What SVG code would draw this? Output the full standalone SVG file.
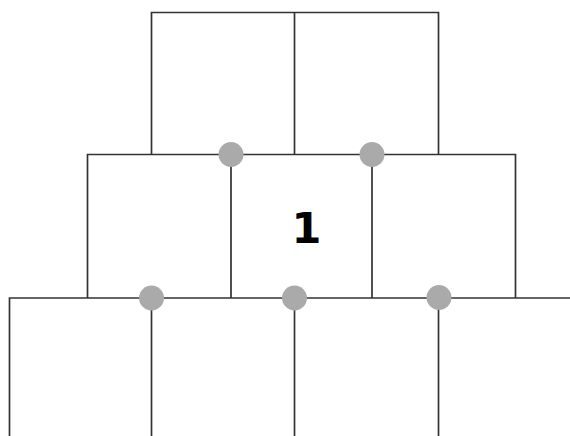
<svg xmlns="http://www.w3.org/2000/svg" width="570" height="436" viewBox="0 0 570 436">
<style>
.ln{stroke:#333333;stroke-width:1.7;fill:none}
.dot{fill:#aaaaaa}
.lbl{font-family:"DejaVu Sans",sans-serif;font-size:43px;font-weight:bold;fill:#000}
</style>
<rect width="570" height="436" fill="#fff"/>
<g id="connectors">
<path class="ln" d="M151.5,154.5 V12.5 H438.5 V154.5 M294.5,12.5 V154.5"/>
<path class="ln" d="M87.5,298 V154.5 H515.5 V298 M231,154.5 V298 M372,154.5 V298"/>
<path class="ln" d="M9.5,436 V298 H570 M151.5,298 V436 M294.5,298 V436 M438.5,298 V436"/>
</g>
<g id="d1"><circle class="dot" cx="231" cy="154.5" r="12.5"/></g>
<g id="d2"><circle class="dot" cx="372" cy="154.5" r="12.5"/></g>
<g id="d3"><circle class="dot" cx="151.5" cy="298" r="12.5"/></g>
<g id="d4"><circle class="dot" cx="294.5" cy="298" r="12.5"/></g>
<g id="d5"><circle class="dot" cx="439" cy="297.5" r="12.5"/></g>
<g id="label"><text class="lbl" x="306.5" y="243" text-anchor="middle">1</text></g>
</svg>
